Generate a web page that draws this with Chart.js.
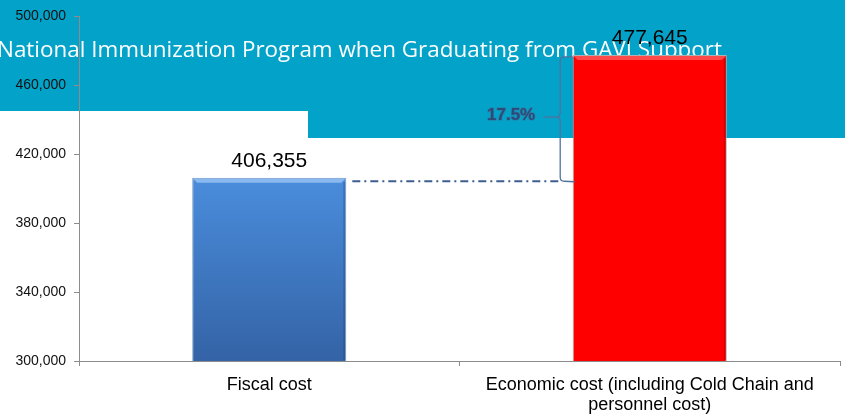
<!DOCTYPE html>
<html>
<head>
<meta charset="utf-8">
<script src="https://cdn.jsdelivr.net/npm/chart.js@4.4.1/dist/chart.umd.min.js"></script>
<style>
    html, body { margin: 0; padding: 0; background: #fff; }
    #wrap { width: 845px; height: 420px; }
</style>
</head>
<body>
<div id="wrap"><canvas id="costChart" width="845" height="420"></canvas></div>
<script>
const categories = ['Fiscal cost', ['Economic cost (including Cold Chain and', 'personnel cost)']];
const costValues = [406355, 477645];
const yTicks = [300000, 340000, 380000, 420000, 460000, 500000];
const titleText = 'National Immunization Program when Graduating from GAVI Support';
const diffLabel = '17.5%';

const TEAL = '#03a3c9';
const FONT = '"Liberation Sans", Arial, sans-serif';

// banner + slide title sit behind the chart
const bannerPlugin = {
    id: 'banner',
    beforeDraw(chart) {
        const ctx = chart.ctx;
        ctx.save();
        ctx.fillStyle = '#fff';
        ctx.fillRect(0, 0, chart.width, chart.height);
        ctx.fillStyle = TEAL;
        ctx.fillRect(0, 0, chart.width, 111);
        ctx.fillRect(308, 111, chart.width - 308, 27);

        ctx.font = '22px "Open Sans"';
        const w = ctx.measureText(titleText).width;
        ctx.translate(-3, 57);
        ctx.scale(725 / w, 1);
        ctx.fillStyle = '#fff';
        ctx.textBaseline = 'alphabetic';
        ctx.fillText(titleText, 0, 0);
        ctx.restore();
    }
};

function barFill(context) {
    const chart = context.chart;
    const area = chart.chartArea;
    if (context.dataIndex === 1) return '#ff0000';
    if (!area) return '#3f7acb';
    const top = chart.scales.y.getPixelForValue(costValues[0]);
    const g = chart.ctx.createLinearGradient(0, top, 0, area.bottom);
    g.addColorStop(0, '#4a8ddc');
    g.addColorStop(1, '#3463a6');
    return g;
}

// bevel highlights, value labels, the gap marker
const decorPlugin = {
    id: 'decor',
    afterDatasetsDraw(chart) {
        const ctx = chart.ctx;
        const bottom = chart.chartArea.bottom;
        const bars = chart.getDatasetMeta(0).data;
        ctx.save();
        bars.forEach((bar, i) => {
            const l = bar.x - bar.width / 2, r = bar.x + bar.width / 2;
            // top bevel
            ctx.fillStyle = i === 0 ? 'rgba(160,200,245,0.75)' : 'rgba(255,120,120,0.6)';
            ctx.beginPath();
            ctx.moveTo(l + 1, bar.y + 1);
            ctx.lineTo(r - 1, bar.y + 1);
            ctx.lineTo(r - 5, bar.y + 5);
            ctx.lineTo(l + 5, bar.y + 5);
            ctx.closePath();
            ctx.fill();
            // right edge shade
            ctx.fillStyle = i === 0 ? 'rgba(30,60,110,0.3)' : 'rgba(150,0,0,0.4)';
            ctx.fillRect(r - 3, bar.y + 4, 2, bottom - bar.y - 5);

            ctx.fillStyle = '#000';
            ctx.font = '21px ' + FONT;
            ctx.textAlign = 'center';
            ctx.textBaseline = 'middle';
            ctx.fillText(costValues[i].toLocaleString('en-US'), bar.x, bar.y - 17);
        });

        const y = chart.scales.y;
        const yLow = y.getPixelForValue(costValues[0]) + 3.5;
        const yHigh = y.getPixelForValue(costValues[1]) + 2;
        const leftEnd = bars[0].x + bars[0].width / 2 + 6;
        const rightBarL = bars[1].x - bars[1].width / 2;
        const bx = rightBarL - 12.5;
        const mid = (yLow + yHigh) / 2 - 2;

        // dash-dot guide
        ctx.strokeStyle = '#3d5e8e';
        ctx.lineWidth = 2;
        ctx.setLineDash([8, 4, 2, 4]);
        ctx.beginPath();
        ctx.moveTo(leftEnd, yLow);
        ctx.lineTo(bx, yLow);
        ctx.stroke();
        ctx.setLineDash([]);

        // bracket
        ctx.strokeStyle = '#52719c';
        ctx.lineWidth = 1.3;
        ctx.beginPath();
        ctx.moveTo(rightBarL, yHigh);
        ctx.lineTo(bx + 4, yHigh);
        ctx.quadraticCurveTo(bx, yHigh, bx, yHigh + 4);
        ctx.lineTo(bx, mid - 4);
        ctx.quadraticCurveTo(bx, mid, bx - 4, mid);
        ctx.lineTo(bx - 17, mid);
        ctx.moveTo(bx - 4, mid);
        ctx.quadraticCurveTo(bx, mid, bx, mid + 4);
        ctx.lineTo(bx, yLow - 4);
        ctx.quadraticCurveTo(bx, yLow, bx + 4, yLow);
        ctx.lineTo(rightBarL + 2, yLow + 0.5);
        ctx.stroke();

        ctx.font = 'bold 17px ' + FONT;
        ctx.textAlign = 'right';
        ctx.textBaseline = 'middle';
        ctx.lineWidth = 1.2;
        ctx.strokeStyle = 'rgba(70,100,140,0.7)';
        ctx.strokeText(diffLabel, bx - 25, mid - 2);
        ctx.fillStyle = '#2c4b7b';
        ctx.fillText(diffLabel, bx - 25, mid - 2);
        ctx.restore();
    }
};

new Chart(document.getElementById('costChart'), {
    type: 'bar',
    data: {
        labels: categories,
        datasets: [{
            data: costValues,
            backgroundColor: barFill,
            borderColor: ['#7f9cc4', '#b0b0b0'],
            borderWidth: 1,
            categoryPercentage: 0.81,
            barPercentage: 0.5
        }]
    },
    options: {
        responsive: false,
        animation: false,
        devicePixelRatio: 1,
        layout: { padding: { top: 16, right: 5, left: 0, bottom: 0 } },
        plugins: {
            legend: { display: false },
            title: { display: false },
            tooltip: { enabled: false }
        },
        scales: {
            x: {
                grid: { drawOnChartArea: false, tickLength: 5, color: '#8c8c8c' },
                border: { color: '#8c8c8c' },
                ticks: {
                    color: '#000',
                    padding: 9,
                    maxRotation: 0,
                    font: { family: FONT, size: 18, lineHeight: 1.1 }
                },
                afterFit(scale) { scale.height = 59; }
            },
            y: {
                min: yTicks[0],
                max: yTicks[yTicks.length - 1],
                afterBuildTicks(scale) { scale.ticks = yTicks.map(v => ({ value: v })); },
                grid: { drawOnChartArea: false, tickLength: 5, color: '#8c8c8c' },
                border: { color: '#8c8c8c' },
                ticks: {
                    color: '#111',
                    padding: 8,
                    font: { family: FONT, size: 14 },
                    callback: v => v.toLocaleString('en-US')
                },
                afterFit(scale) { scale.width = 79; }
            }
        }
    },
    plugins: [bannerPlugin, decorPlugin]
});
</script>
</body>
</html>
